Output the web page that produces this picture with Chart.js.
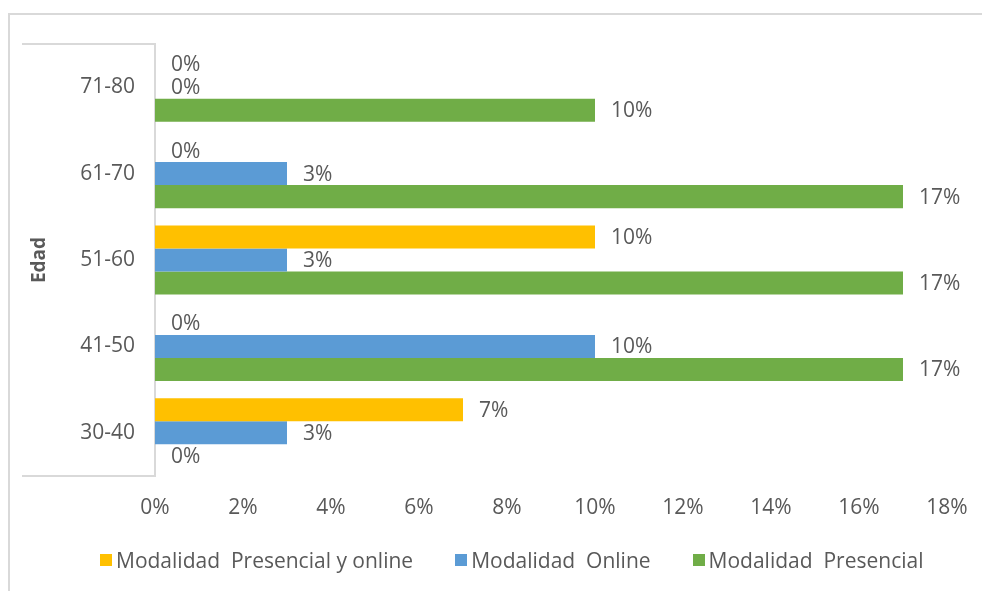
<!DOCTYPE html>
<html>
<head>
<meta charset="utf-8">
<script src="https://cdn.jsdelivr.net/npm/chart.js@4.4.1/dist/chart.umd.min.js"></script>
<style>
  html, body { margin: 0; padding: 0; background: #fff; }
  #wrap { position: relative; width: 982px; height: 591px; }
  #frame {
    position: absolute; left: 8px; top: 13px; right: 0; bottom: 0;
    border-top: 2px solid #d9d9d9; border-left: 2px solid #d9d9d9;
  }
  #chartBox { position: absolute; left: 0; top: 0; width: 982px; height: 591px; }
  #legend {
    position: absolute; left: 100px; top: 546px;
    display: flex; align-items: center;
    font: 21px 'Open Sans', 'Noto Sans', sans-serif; color: #595959;
    white-space: pre;
  }
  #legend .item { display: flex; align-items: center; margin-right: 42px; }
  #legend .swatch { width: 12px; height: 12px; margin-right: 4px; }
</style>
</head>
<body>
<div id="wrap">
  <div id="frame"></div>
  <div id="chartBox"><canvas id="edadChart"></canvas></div>
  <div id="legend"></div>
</div>
<script>
const ageGroups = ["71-80", "61-70", "51-60", "41-50", "30-40"];
const presencialOnline = [0, 0, 10, 0, 7];
const online = [0, 3, 3, 10, 3];
const presencial = [10, 17, 17, 17, 0];

const seriesNames = [
  "Modalidad  Presencial y online",
  "Modalidad  Online",
  "Modalidad  Presencial",
];
const seriesColors = ["#FFC000", "#5B9BD5", "#70AD47"];

const textColor = "#595959";
const lineColor = "#d9d9d9";
const fontFamily = "'Open Sans', 'Noto Sans', sans-serif";

// "0%" style labels to the right of each bar end
const valueLabels = {
  id: "valueLabels",
  afterDatasetsDraw(chart) {
    const ctx = chart.ctx;
    ctx.save();
    ctx.font = "21px " + fontFamily;
    ctx.fillStyle = textColor;
    ctx.textAlign = "left";
    ctx.textBaseline = "middle";
    chart.data.datasets.forEach((ds, i) => {
      chart.getDatasetMeta(i).data.forEach((bar, j) => {
        ctx.fillText(ds.data[j] + "%", bar.x + 16, bar.y + 1);
      });
    });
    ctx.restore();
  },
};

// open box around the category labels
const axisBox = {
  id: "axisBox",
  afterDraw(chart) {
    const { ctx, chartArea } = chart;
    ctx.save();
    ctx.strokeStyle = lineColor;
    ctx.lineWidth = 2;
    ctx.beginPath();
    ctx.moveTo(22, chartArea.top);
    ctx.lineTo(chartArea.left, chartArea.top);
    ctx.moveTo(22, chartArea.bottom);
    ctx.lineTo(chartArea.left, chartArea.bottom);
    ctx.stroke();
    ctx.restore();
  },
};

const chart = new Chart(document.getElementById("edadChart"), {
  type: "bar",
  data: {
    labels: ageGroups,
    datasets: [presencialOnline, online, presencial].map((vals, i) => ({
      label: seriesNames[i],
      data: vals,
      backgroundColor: seriesColors[i],
      borderWidth: 0,
      categoryPercentage: 0.8,
      barPercentage: 1,
    })),
  },
  options: {
    indexAxis: "y",
    responsive: true,
    maintainAspectRatio: false,
    animation: false,
    layout: { padding: { left: 22, top: 44, right: 35, bottom: 55 } },
    plugins: {
      tooltip: { enabled: false },
      legend: { display: false },
    },
    scales: {
      x: {
        min: 0,
        max: 18,
        grid: { display: false, drawTicks: false },
        border: { display: false },
        ticks: {
          stepSize: 2,
          padding: 19,
          color: textColor,
          font: { family: fontFamily, size: 21 },
          callback: (v) => v + "%",
        },
        afterFit(scale) {
          scale.height = 60;
          scale.paddingLeft = 0;
          scale.paddingRight = 0;
        },
      },
      y: {
        grid: { display: false, drawTicks: false },
        border: { display: true, color: lineColor, width: 2 },
        ticks: {
          padding: 20,
          color: textColor,
          font: { family: fontFamily, size: 21 },
        },
        title: {
          display: true,
          text: "Edad",
          color: textColor,
          font: { family: fontFamily, size: 19, weight: "bold" },
          padding: { top: 6, bottom: 0 },
        },
        afterFit(scale) {
          scale.width = 133;
        },
      },
    },
  },
  plugins: [valueLabels, axisBox],
});

// legend row built from the chart's own datasets
const legendEl = document.getElementById("legend");
chart.data.datasets.forEach((ds) => {
  const item = document.createElement("div");
  item.className = "item";
  const sw = document.createElement("span");
  sw.className = "swatch";
  sw.style.background = ds.backgroundColor;
  const txt = document.createElement("span");
  txt.textContent = ds.label;
  item.appendChild(sw);
  item.appendChild(txt);
  legendEl.appendChild(item);
});
</script>
</body>
</html>
